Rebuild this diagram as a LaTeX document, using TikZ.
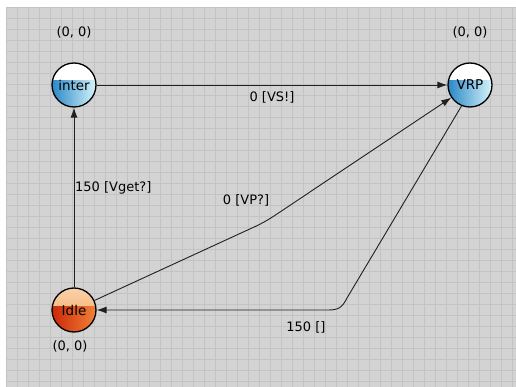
\documentclass[tikz,border=0pt]{standalone}
\usepackage{fontspec}
\setmainfont{DejaVu Sans}
\usetikzlibrary{arrows.meta}
\definecolor{bggray}{HTML}{D3D3D3}
\definecolor{gridgray}{HTML}{C3C3C3}
\definecolor{edgegray}{HTML}{202020}
\definecolor{blueL}{HTML}{2A88C8}
\definecolor{blueR}{HTML}{D6F4FA}
\definecolor{redL}{HTML}{CC2808}
\definecolor{redR}{HTML}{F08238}
\definecolor{orTop}{HTML}{FAD2A8}
\definecolor{orBot}{HTML}{F2A060}
\tikzset{
  lbl/.style={font=\fontsize{13}{15}\selectfont, inner sep=0pt},
  arr/.style={draw=edgegray, line width=0.9pt, -{Latex[length=10pt,width=7pt]}},
  bluestate/.style={circle, draw=black, line width=1.3pt, minimum size=44pt, inner sep=0pt,
    font=\fontsize{13.5}{15}\selectfont,
    path picture={
      \fill[white] (path picture bounding box.north west) rectangle (path picture bounding box.south east);
      \shade[left color=blueL, right color=blueR] ([yshift=4pt]path picture bounding box.west) rectangle (path picture bounding box.south east);
    }},
  redstate/.style={circle, draw=black, line width=1.3pt, minimum size=44pt, inner sep=0pt,
    font=\fontsize{13.5}{15}\selectfont,
    path picture={
      \shade[top color=orTop, bottom color=orBot] (path picture bounding box.north west) rectangle (path picture bounding box.east);
      \shade[left color=redL, right color=redR] ([yshift=4pt]path picture bounding box.west) rectangle (path picture bounding box.south east);
    }},
}
\begin{document}
\begin{tikzpicture}[x=1pt,y=-1pt]
\useasboundingbox (0,0) rectangle (516,387);
\fill[white] (0,0) rectangle (516,387);
\fill[bggray] (6,7) rectangle (516,387);
\begin{scope}
\clip (6,7) rectangle (516,387);
\foreach \i in {0,...,47} {
  \draw[gridgray, line width=1pt] ({6.5+11*\i},7) -- ({6.5+11*\i},387);
}
\foreach \j in {0,...,35} {
  \draw[gridgray, line width=1pt] (6,{7.5+11*\j}) -- (516,{7.5+11*\j});
}
\end{scope}

\node[bluestate] (inter) at (74,85) {inter};
\node[bluestate] (VRP) at (470,85) {VRP};
\node[redstate] (Idle) at (74,310) {Idle};

\node[lbl] (c1) at (74,32) {(0, 0)};
\node[lbl] (c2) at (470,32) {(0, 0)};
\node[lbl] (c3) at (70,346) {(0, 0)};

\coordinate (bendA) at (265,222);
\coordinate (bendB) at (347,298);
\coordinate (bendC) at (328,310);

\draw[arr] (inter) -- (VRP);
\draw[arr] (Idle) -- (inter);
\draw[arr, rounded corners=10pt] (Idle.25) -- (bendA) -- (VRP.214);
\draw[arr] (VRP.-112) -- (bendB) .. controls (342,308) and (338,310) .. (bendC) -- (Idle.east);

\node[lbl] (l1) at (272,97) {0 [VS!]};
\node[lbl, anchor=west] (l2) at (75,188) {150 [Vget?]};
\node[lbl] (l3) at (246,200) {0 [VP?]};
\node[lbl] (l4) at (306,327) {150 []};
\end{tikzpicture}
\end{document}
